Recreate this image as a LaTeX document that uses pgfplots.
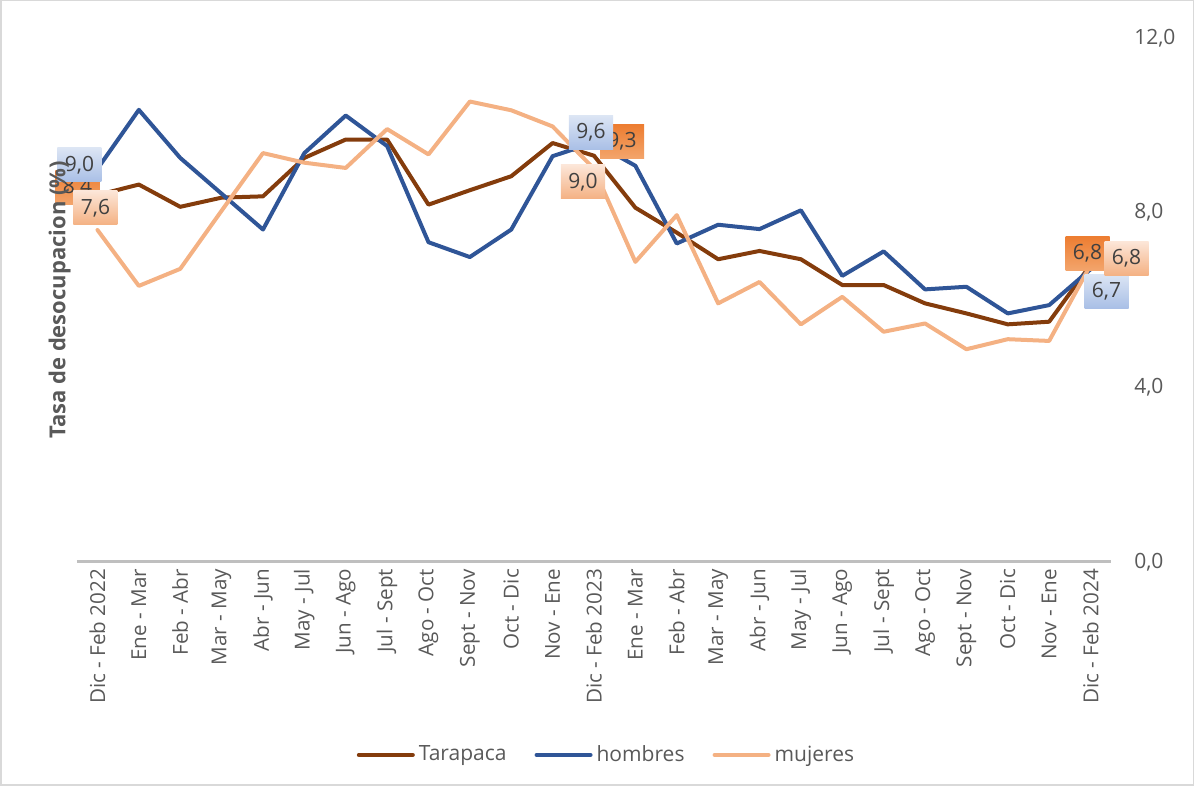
\documentclass[border=0pt]{standalone}
\usepackage{fontspec}
\setmainfont{Open Sans}
\usepackage{pgfplots}
\usepackage{pgfplotstable}
\pgfplotsset{compat=1.18}

\definecolor{tara}{HTML}{843C0C}
\definecolor{homb}{HTML}{2F5597}
\definecolor{muj}{HTML}{F4B183}
\definecolor{txt}{HTML}{595959}
\definecolor{lbl}{HTML}{404040}
\definecolor{oTop}{HTML}{ED7D31}
\definecolor{oBot}{HTML}{F3A56C}
\definecolor{bTop}{HTML}{DCE5F4}
\definecolor{bBot}{HTML}{A9BFE6}
\definecolor{mTop}{HTML}{FCE6D8}
\definecolor{mBot}{HTML}{F4B183}

% tasa de desocupacion (%), trimestres moviles
\pgfplotstableread{
i  tara  homb  muj
0  8.40  9.00  7.60
1  8.64  10.35 6.32
2  8.13  9.25  6.71
3  8.34  8.43  8.04
4  8.37  7.61  9.36
5  9.25  9.36  9.14
6  9.67  10.22 9.02
7  9.67  9.52  9.91
8  8.18  7.32  9.33
9  8.51  6.98  10.54
10 8.83  7.61  10.34
11 9.59  9.29  9.97
12 9.30  9.60  9.00
13 8.11  9.07  6.87
14 7.54  7.29  7.94
15 6.93  7.72  5.92
16 7.12  7.62  6.41
17 6.93  8.05  5.44
18 6.34  6.55  6.07
19 6.34  7.11  5.27
20 5.92  6.24  5.46
21 5.69  6.30  4.87
22 5.44  5.69  5.10
23 5.50  5.88  5.06
24 6.80  6.70  6.80
}\datos

\tikzset{
  lbl/.style={minimum width=22pt, minimum height=17pt, inner sep=0pt,
    font=\fontsize{10.5}{12}\selectfont, text=lbl},
  lblO/.style={lbl, top color=oTop, bottom color=oBot},
  lblB/.style={lbl, top color=bTop, bottom color=bBot},
  lblM/.style={lbl, top color=mTop, bottom color=mBot},
}

\begin{document}
\begin{tikzpicture}
\begin{axis}[
  name=ax,
  width=517pt, height=262pt, scale only axis,
  clip=false,
  xmin=-0.5, xmax=24.5, ymin=0, ymax=12,
  axis x line*=bottom, axis y line*=right,
  x axis line style={draw=black!25, line width=1.5pt},
  y axis line style={draw=none},
  major tick length=0pt,
  xtick={0,...,24},
  xticklabels={Dic - Feb 2022, Ene - Mar, Feb - Abr, Mar - May, Abr - Jun,
    May - Jul, Jun - Ago, Jul - Sept, Ago - Oct, Sept - Nov, Oct - Dic,
    Nov - Ene, Dic - Feb 2023, Ene - Mar, Feb - Abr, Mar - May, Abr - Jun,
    May - Jul, Jun - Ago, Jul - Sept, Ago - Oct, Sept - Nov, Oct - Dic,
    Nov - Ene, Dic - Feb 2024},
  xticklabel style={rotate=90, anchor=east, font=\fontsize{10.3}{12}\selectfont, text=txt},
  ytick={0,4,8,12},
  yticklabel style={font=\fontsize{10.5}{12}\selectfont, text=txt, xshift=8pt,
    /pgf/number format/fixed, /pgf/number format/fixed zerofill,
    /pgf/number format/precision=1, /pgf/number format/use comma,
    /pgf/number format/assume math mode=true},
  ylabel={Tasa de desocupacion (\%)},
  every axis y label/.style={at={(rel axis cs:-0.0165,0.5)}, rotate=90, anchor=center,
    font=\fontsize{11}{13}\selectfont\bfseries, text=txt},
  legend style={at={(0.513,-0.368)}, anchor=center, draw=none, fill=none,
    legend columns=3, font=\fontsize{10.5}{12}\selectfont, text=txt,
    /tikz/every even column/.append style={column sep=12pt}},
  legend image code/.code={\draw[#1] (0pt,0pt) -- (27pt,0pt);},
  every axis plot/.append style={line width=2pt, line join=round, line cap=round},
]
\addplot[tara, mark=none] table[x=i, y=tara] {\datos};
\addplot[homb, mark=none] table[x=i, y=homb] {\datos};
\addplot[muj, mark=none] table[x=i, y=muj] {\datos};
\legend{Tarapaca, hombres, mujeres}

% etiquetas de datos
\node[lblO, xshift=-10pt, yshift=3.75pt] at (axis cs:0,8.4) {8,4};
\node[lblB, xshift=-9pt, yshift=2pt] at (axis cs:0,9.0) {9,0};
\node[lblM, xshift=-1pt, yshift=11pt] at (axis cs:0,7.6) {7,6};

\node[lblO, xshift=14pt, yshift=7pt] at (axis cs:12,9.3) {9,3};
\node[lblB, xshift=-1.5pt, yshift=5pt] at (axis cs:12,9.6) {9,6};
\node[lblM, xshift=-5.5pt, yshift=-6.5pt] at (axis cs:12,9.0) {9,0};

\node[lblO, xshift=-1.5pt, yshift=5.75pt] at (axis cs:24,6.8) {6,8};
\node[lblB, xshift=8pt, yshift=-11pt] at (axis cs:24,6.7) {6,7};
\node[lblM, xshift=18pt, yshift=3.25pt] at (axis cs:24,6.8) {6,8};
\end{axis}
\draw[black!15, line width=0.75pt]
  ([xshift=-38pt,yshift=-111.5pt]ax.south west) rectangle ([xshift=41pt,yshift=18.5pt]ax.north east);
\end{tikzpicture}
\end{document}
